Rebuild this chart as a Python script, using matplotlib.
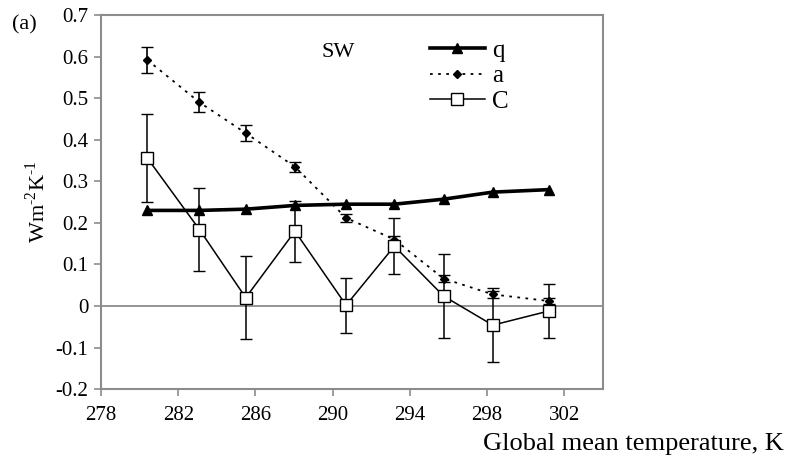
import matplotlib
matplotlib.use("Agg")
import matplotlib.pyplot as plt
from matplotlib.lines import Line2D

plt.rcParams["font.family"] = ["Liberation Serif", "DejaVu Serif"]
plt.rcParams["mathtext.fontset"] = "custom"
plt.rcParams["mathtext.rm"] = "Liberation Serif"

# Global mean temperature (K) of each run
temp = [280.4, 283.1, 285.5, 288.05, 290.7, 293.2, 295.75, 298.3, 301.2]

# Feedback components, W m-2 K-1
q_vals = [0.230, 0.230, 0.233, 0.242, 0.245, 0.245, 0.257, 0.274, 0.280]
a_vals = [0.592, 0.490, 0.416, 0.335, 0.212, 0.160, 0.066, 0.028, 0.012]
a_err = [0.032, 0.024, 0.019, 0.012, 0.010, 0.008, 0.008, 0.008, 0.008]
c_vals = [0.356, 0.184, 0.020, 0.180, 0.002, 0.144, 0.024, -0.046, -0.012]
c_err = [0.105, 0.100, 0.100, 0.073, 0.066, 0.067, 0.100, 0.089, 0.064]

x_ticks = [278, 282, 286, 290, 294, 298, 302]
y_ticks = [-0.2, -0.1, 0, 0.1, 0.2, 0.3, 0.4, 0.5, 0.6, 0.7]
y_labels = ["-0.2", "-0.1", "0", "0.1", "0.2", "0.3", "0.4", "0.5", "0.6", "0.7"]

fig = plt.figure(figsize=(7.89, 4.70), dpi=100)
ax = fig.add_axes([0.128, 0.172, 0.636, 0.796])

grey = "#8c8c8c"
dots = (0, (1.5, 3))
ax.axhline(0, color=grey, lw=1.3, zorder=1)

ax.plot(temp, q_vals, color="black", lw=2.6, marker="^", ms=7.5, zorder=4)
ax.errorbar(temp, a_vals, yerr=a_err, color="black", lw=1.3, ls=dots,
            marker="D", ms=4.5, capsize=4, elinewidth=1.2, zorder=3)
ax.errorbar(temp, c_vals, yerr=c_err, color="black", lw=1.1, marker="s", ms=9,
            mfc="white", mew=1.0, capsize=4, elinewidth=1.1, zorder=3)

ax.set_xlim(278, 304)
ax.set_ylim(-0.2, 0.7)
ax.set_xticks(x_ticks)
ax.set_yticks(y_ticks)
ax.set_yticklabels(y_labels)
ax.tick_params(labelsize=15, color=grey, length=5, width=1.2, direction="out")
ax.tick_params(axis="x", pad=7)
ax.tick_params(axis="y", pad=4)
for s in ax.spines.values():
    s.set_color(grey)
    s.set_linewidth(1.5)

ax.set_ylabel(r"Wm$^{\text{-2}}$K$^{\text{-1}}$", fontsize=16, labelpad=4)
fig.text(0.993, 0.032, "Global mean temperature, K", fontsize=19, ha="right", va="bottom")
fig.text(0.015, 0.948, "(a)", fontsize=16, ha="left", va="center")
ax.text(0.472, 0.9, "SW", transform=ax.transAxes, fontsize=16, ha="center", va="center")

handles = [
    Line2D([], [], color="black", lw=2.6, marker="^", ms=7.5),
    Line2D([], [], color="black", lw=1.3, ls=dots, marker="D", ms=4.5),
    Line2D([], [], color="black", lw=1.1, marker="s", ms=8, mfc="white"),
]
ax.legend(handles, ["q", "a", "C"], loc="upper left", bbox_to_anchor=(0.655, 0.935),
          frameon=False, fontsize=18, handlelength=2.2, handletextpad=0.3,
          labelspacing=0.12, borderaxespad=0, borderpad=0)

fig.savefig("out.png", dpi=100)
